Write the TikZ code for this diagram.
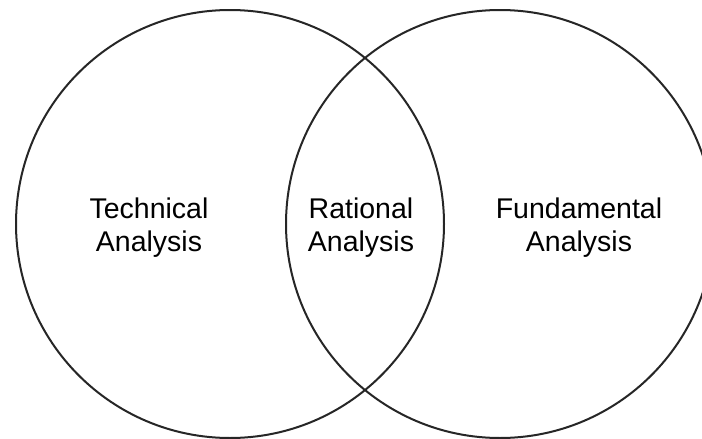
\documentclass[tikz,border=0pt]{standalone}
\usepackage{fontspec}
\setmainfont{Liberation Sans}
\begin{document}
\begin{tikzpicture}[x=1pt,y=-1pt,
  venn/.style={draw=black!85,line width=2pt},
  lbl/.style={align=center,font=\fontsize{28.5}{33}\selectfont,text=black}]
\useasboundingbox (0,0) rectangle (702,439);
\begin{scope}
\clip (0,0) rectangle (702,439);
\node[venn,circle,minimum size=428pt,inner sep=0pt] (L) at (230,224) {};
\node[venn,circle,minimum size=428pt,inner sep=0pt] (R) at (500,224) {};
\end{scope}
\node[lbl] (t) at (149,228) {Technical\\Analysis};
\node[lbl] (r) at (361,228) {Rational\\Analysis};
\node[lbl] (f) at (579,228) {Fundamental\\Analysis};
\end{tikzpicture}
\end{document}
